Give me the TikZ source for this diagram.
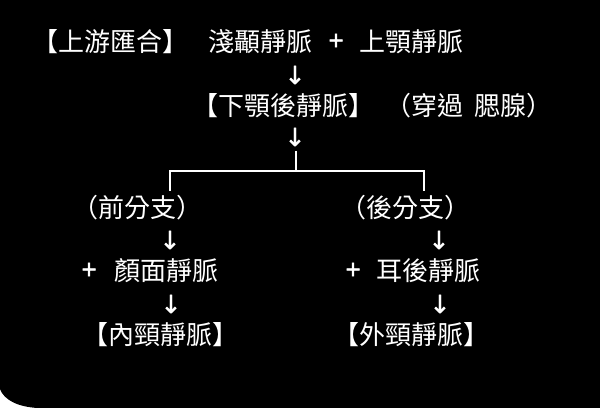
\documentclass[tikz,border=0pt]{standalone}
\usepackage{fontspec}
\newfontfamily\cjk{Noto Sans CJK TC}
\newfontfamily\cjkbold[FakeBold=2]{Noto Sans CJK TC}
\newfontfamily\arrfont[FakeBold=1.5]{DejaVu Sans}
\usetikzlibrary{positioning, calc}

\begin{document}
\begin{tikzpicture}[
  x=1pt, y=-1pt,
  every node/.style={inner sep=0pt, text=white},
  label/.style={font=\cjk\fontsize{26}{30}\selectfont},
  plussign/.style={font=\cjkbold\fontsize{26}{30}\selectfont},
  downarr/.style={font=\arrfont\fontsize{25}{28}\selectfont},
  treeline/.style={draw=white, line width=1.8pt},
]

%% Background with rounded lower-left corner
\fill[white] (0,0) rectangle (600,411);
\fill[black] (0,0) -- (600,0) -- (600,408) -- (38,408)
  .. controls (18,407) and (4,400) .. (0,389) -- cycle;

%% Upstream confluence
\node[label] (up)    at (110,42)   {【上游匯合】};
\node[label] (stv)   at (260,42)   {淺顳靜脈};
\node[plussign] (plusA) at (336,42) {+};
\node[label] (mxv)   at (411.5,42) {上顎靜脈};
\node[downarr] (arrA) at (295,75)  {↓};

%% Retromandibular vein
\node[label] (rmv)     at (283,106) {【下顎後靜脈】};
\node[label] (parotid) at (469,106) {（穿過\hspace{0.45em}腮腺）};
\node[downarr] (arrB)  at (295,137) {↓};

%% Split into two branches
\coordinate (split) at (296,171);
\coordinate (antTop)  at (170,171);
\coordinate (postTop) at (424,171);
\coordinate (antEnd)  at (170,191);
\coordinate (postEnd) at (424,191);
\draw[treeline] (296,151) -- (split);
\draw[treeline] (antEnd) -- (antTop) -- (postTop) -- (postEnd);

%% Anterior branch
\node[label] (ant)   at (137.5,208) {（前分支）};
\node[downarr] (arrC) at (170,240)  {↓};
\node[plussign] (plusB) at (89,271) {+};
\node[label] (fv)    at (166,271)   {顏面靜脈};
\node[downarr] (arrE) at (171,304)  {↓};
\node[label] (ijv)   at (160.5,335) {【內頸靜脈】};

%% Posterior branch
\node[label] (post)  at (405.5,208) {（後分支）};
\node[downarr] (arrD) at (439,240)  {↓};
\node[plussign] (plusC) at (353,271) {+};
\node[label] (pav)   at (428,271)   {耳後靜脈};
\node[downarr] (arrF) at (440,304)  {↓};
\node[label] (ejv)   at (411.5,335) {【外頸靜脈】};

\end{tikzpicture}
\end{document}
